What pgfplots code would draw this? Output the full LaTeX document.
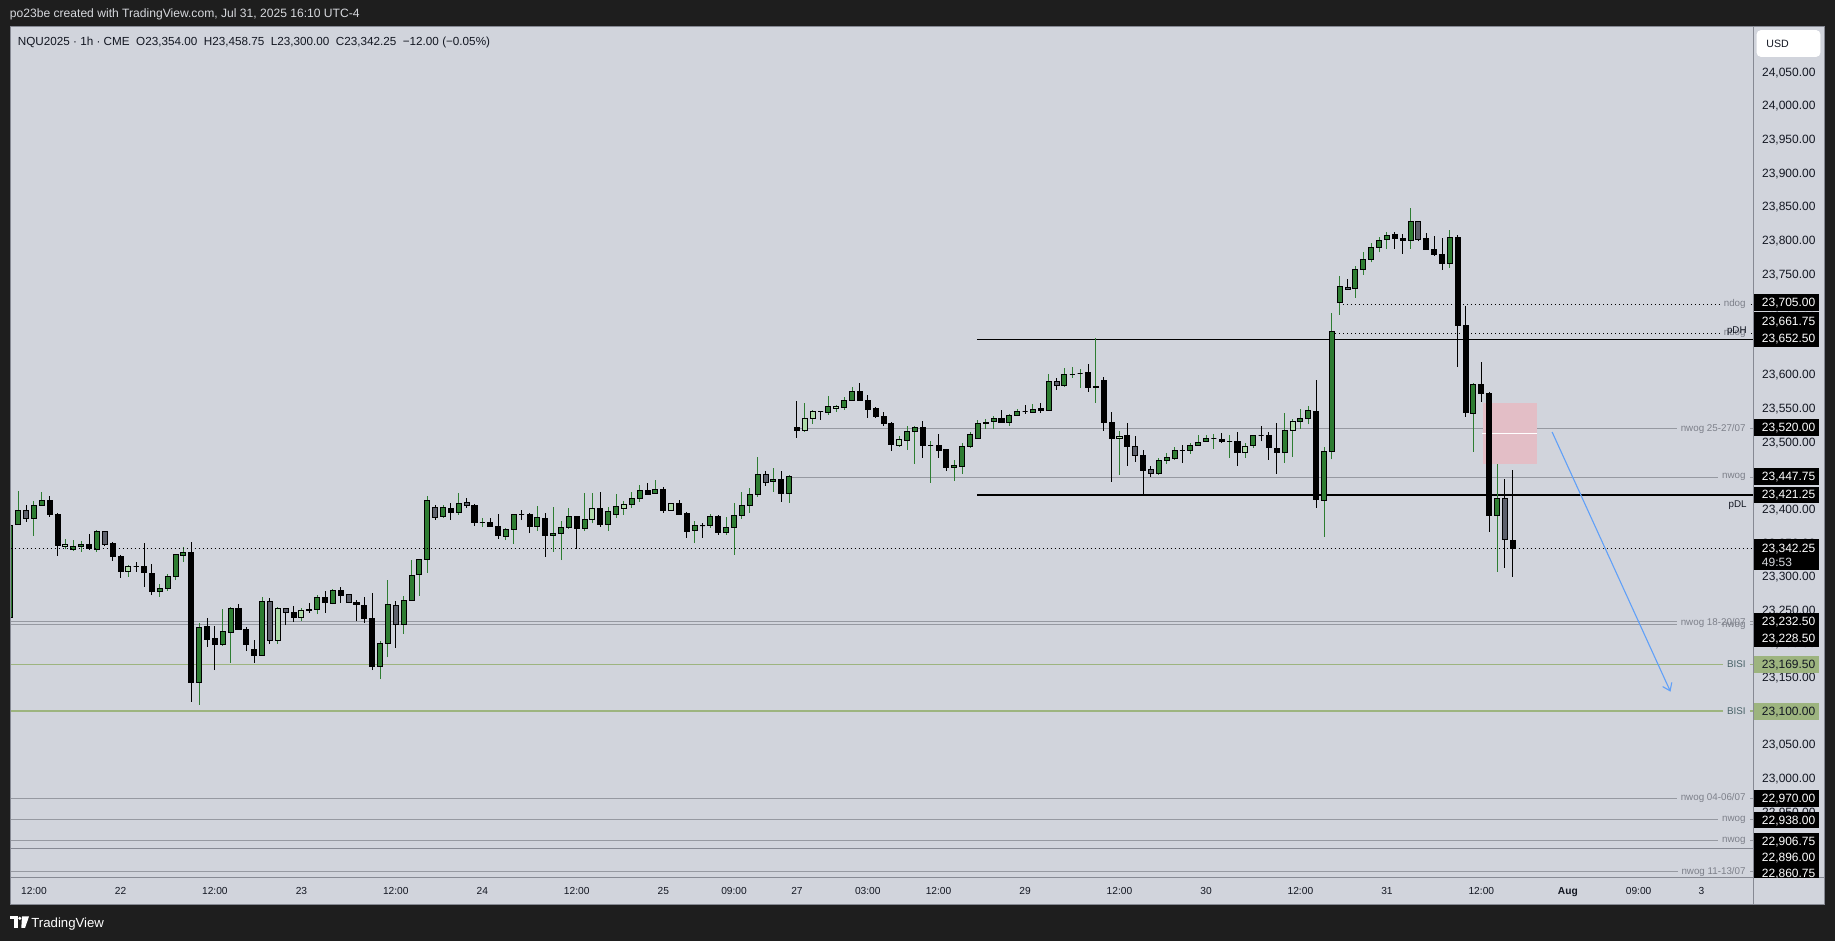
\documentclass[border=0pt]{standalone}
\usepackage{fontspec}
\setmainfont{Liberation Sans}
\usepackage{xfp}
\usepackage{pgfplots}
\usepackage{pgfplotstable}
\pgfplotsset{compat=1.18}
\usetikzlibrary{arrows.meta}

\definecolor{bgdark}{RGB}{30,30,30}
\definecolor{panel}{RGB}{209,212,220}
\definecolor{cgreen}{RGB}{46,125,50}
\definecolor{cgray}{RGB}{93,96,107}
\definecolor{clight}{RGB}{176,220,170}
\definecolor{lvl}{RGB}{150,153,161}
\definecolor{lbl}{RGB}{125,128,138}
\definecolor{bisi}{RGB}{157,180,127}
\definecolor{bisitxt}{RGB}{72,98,104}
\definecolor{pinkbox}{RGB}{227,190,198}
\definecolor{arrowblue}{RGB}{96,160,248}
\definecolor{framec}{RGB}{134,137,147}
\definecolor{tickc}{RGB}{19,23,34}
\definecolor{headtxt}{RGB}{215,217,222}

\pgfdeclareplotmark{nothing}{}
\pgfplotsset{
  candles/.style 2 args={
    only marks, mark=nothing, scatter,
    visualization depends on={\thisrow{dh} \as \dH},
    visualization depends on={\thisrow{dl} \as \dL},
    visualization depends on={\thisrow{dc} \as \dC},
    scatter/@pre marker code/.code={%
      \draw[line width=0.5pt, draw=#2] (axis direction cs:0,\dL) -- (axis direction cs:0,\dH);
      \filldraw[line width=0.5pt, draw=black, fill=#1] (axis direction cs:-0.32,0) rectangle (axis direction cs:0.32,\dC);
    },
    scatter/@post marker code/.code={},
  },
}
% offsets of high, low and close from the open (computed from the OHLC columns)
\newcommand\addoffsets[1]{%
  \pgfplotstablecreatecol[create col/assign/.code={\getthisrow{h}\tH\getthisrow{o}\tO\edef\entry{\fpeval{\tH-\tO}}\pgfkeyslet{/pgfplots/table/create col/next content}\entry}]{dh}#1%
  \pgfplotstablecreatecol[create col/assign/.code={\getthisrow{l}\tL\getthisrow{o}\tO\edef\entry{\fpeval{\tL-\tO}}\pgfkeyslet{/pgfplots/table/create col/next content}\entry}]{dl}#1%
  \pgfplotstablecreatecol[create col/assign/.code={\getthisrow{c}\tC\getthisrow{o}\tO\edef\entry{\fpeval{\tC-\tO}}\pgfkeyslet{/pgfplots/table/create col/next content}\entry}]{dc}#1%
}

% green (up) candles: x o h l c
\pgfplotstableread{
x o h l c
-14 23239.3 23396.4 23225.4 23376.6
-13 23377.6 23427.1 23377.6 23398.4
-11 23386.5 23411.8 23360.7 23405.8
-10 23405.3 23425.7 23405.3 23413.3
-6 23340.4 23354.3 23338.4 23344.4
-5 23344.4 23352.3 23336.9 23347.8
-3 23340.4 23369.1 23336.9 23367.2
5 23277.9 23288.8 23270.0 23282.4
6 23281.9 23303.7 23278.9 23300.2
7 23299.7 23333.0 23294.8 23333.0
8 23331.5 23343.4 23322.0 23336.4
10 23142.1 23230.3 23109.4 23224.4
13 23198.6 23251.2 23197.1 23218.4
14 23216.5 23255.1 23171.9 23253.1
18 23182.3 23269.5 23182.3 23263.1
25 23251.2 23272.0 23244.2 23269.0
27 23260.1 23281.4 23258.6 23279.4
33 23165.9 23204.1 23147.6 23200.6
34 23200.6 23294.8 23180.3 23258.6
36 23228.9 23271.0 23215.0 23264.6
37 23264.6 23324.5 23264.6 23301.7
38 23302.7 23325.5 23271.5 23325.5
39 23325.5 23419.7 23305.7 23413.3
41 23389.0 23406.3 23387.5 23402.9
43 23395.4 23424.2 23392.0 23408.8
46 23380.5 23387.0 23374.1 23380.5
49 23359.2 23372.1 23354.3 23370.2
50 23370.2 23392.5 23348.8 23392.5
53 23374.6 23404.9 23368.2 23388.0
55 23361.2 23403.4 23336.9 23364.2
56 23364.2 23382.5 23324.5 23373.1
57 23372.6 23401.9 23371.1 23389.5
59 23371.1 23423.7 23368.2 23385.0
62 23377.1 23403.4 23368.2 23396.9
63 23392.0 23422.2 23387.5 23403.4
65 23406.9 23425.7 23402.4 23416.3
66 23415.8 23435.6 23411.3 23428.2
68 23423.7 23443.0 23423.7 23429.6
73 23368.7 23382.5 23350.3 23376.1
75 23375.6 23393.0 23372.6 23389.5
77 23365.2 23388.5 23362.2 23373.1
78 23373.1 23408.8 23332.5 23391.0
79 23390.5 23425.7 23386.0 23405.8
80 23405.8 23431.6 23394.9 23422.2
81 23421.7 23477.2 23418.7 23451.9
83 23441.5 23460.9 23426.2 23444.5
85 23423.2 23451.0 23409.8 23449.0
90 23543.6 23568.4 23540.7 23553.1
92 23551.1 23567.0 23548.1 23562.0
93 23562.0 23581.8 23562.0 23575.4
100 23502.0 23523.8 23488.6 23515.9
101 23515.4 23523.4 23467.9 23521.9
103 23495.1 23501.6 23439.6 23495.1
106 23461.9 23473.3 23442.6 23464.4
107 23463.4 23498.1 23453.0 23493.6
108 23493.1 23514.9 23491.6 23511.5
109 23505.5 23532.8 23505.5 23527.8
110 23527.3 23533.8 23519.9 23529.3
111 23530.3 23538.2 23519.9 23535.3
113 23528.8 23541.7 23523.9 23539.7
114 23539.7 23549.2 23539.2 23545.7
116 23544.2 23556.1 23544.2 23548.7
118 23546.7 23601.2 23546.7 23590.3
120 23583.8 23610.1 23582.4 23600.7
121 23600.7 23611.6 23595.7 23600.7
122 23602.2 23608.1 23580.4 23602.2
124 23580.9 23654.2 23558.6 23582.9
132 23453.0 23475.8 23451.5 23472.8
133 23472.3 23483.2 23467.9 23477.3
134 23475.3 23492.1 23473.8 23487.7
136 23487.2 23498.6 23482.7 23495.1
137 23494.6 23510.0 23494.6 23499.6
138 23500.6 23510.0 23500.6 23505.5
139 23505.5 23512.0 23490.2 23505.5
141 23501.1 23510.0 23476.8 23501.1
144 23494.6 23510.0 23491.6 23510.0
148 23484.2 23542.7 23469.3 23517.4
150 23530.9 23548.7 23519.9 23535.3
151 23535.3 23553.2 23526.4 23547.2
153 23413.4 23492.2 23359.3 23486.2
154 23486.2 23692.0 23474.3 23664.7
155 23707.8 23747.0 23689.5 23731.6
157 23728.6 23761.4 23714.8 23756.9
158 23756.9 23782.2 23749.0 23771.8
159 23771.8 23795.6 23767.3 23789.6
160 23789.6 23804.5 23782.2 23800.0
161 23801.5 23811.9 23787.1 23807.5
164 23800.0 23847.6 23787.6 23828.3
169 23765.8 23814.9 23759.4 23804.5
172 23542.8 23587.4 23485.8 23585.9
175 23391.1 23467.4 23307.3 23415.9
}\candlesG

% black (down) candles
\pgfplotstableread{
x o h l c
-9 23413.3 23419.7 23389.0 23392.0
-8 23392.4 23393.9 23331.0 23346.3
-4 23347.8 23363.2 23339.9 23341.4
-1 23349.8 23351.3 23323.5 23329.5
0 23330.5 23332.0 23298.3 23307.2
2 23315.1 23321.6 23307.2 23315.1
3 23315.1 23349.8 23284.9 23305.7
4 23304.7 23318.6 23272.5 23277.4
9 23336.4 23351.3 23113.9 23142.1
11 23225.9 23237.8 23195.7 23206.1
12 23208.0 23226.4 23161.0 23198.6
15 23253.1 23258.6 23220.9 23220.9
16 23221.9 23224.9 23189.7 23198.6
17 23191.7 23205.6 23171.9 23182.3
22 23246.7 23256.1 23232.8 23238.8
24 23251.2 23260.1 23246.2 23249.2
26 23269.0 23278.4 23246.2 23261.1
28 23279.4 23283.9 23261.1 23271.5
30 23262.1 23265.1 23234.3 23258.1
31 23257.1 23269.0 23231.3 23237.3
32 23237.8 23275.0 23161.0 23165.9
42 23401.4 23409.3 23384.5 23394.9
45 23405.8 23407.3 23375.6 23380.5
47 23380.5 23386.5 23374.1 23374.6
48 23374.6 23392.9 23356.3 23360.7
51 23392.5 23398.9 23384.0 23392.5
52 23392.5 23394.9 23364.7 23374.1
54 23386.5 23394.0 23329.5 23360.7
58 23389.5 23389.5 23341.4 23371.1
61 23401.4 23425.7 23374.1 23377.1
67 23428.2 23439.1 23421.7 23421.7
69 23429.6 23433.1 23394.9 23397.9
71 23408.8 23413.3 23392.0 23392.0
72 23393.0 23395.4 23357.8 23366.7
74 23375.6 23379.1 23357.8 23375.6
76 23389.5 23391.0 23362.2 23365.2
84 23444.5 23456.9 23411.3 23423.2
86 23521.8 23561.0 23506.5 23516.9
89 23545.6 23545.6 23533.2 23545.6
94 23575.4 23587.8 23562.0 23562.0
95 23562.0 23569.9 23536.2 23548.1
96 23550.1 23552.1 23536.2 23537.7
97 23538.2 23544.6 23524.3 23527.3
98 23528.3 23529.8 23487.1 23496.1
102 23521.9 23531.3 23476.8 23494.6
104 23495.1 23512.0 23476.8 23487.2
105 23488.2 23489.2 23457.4 23461.9
112 23535.3 23547.7 23528.8 23528.8
115 23545.7 23554.6 23541.7 23545.7
117 23550.1 23558.1 23543.7 23546.7
123 23602.7 23616.1 23574.9 23580.9
125 23590.8 23596.2 23516.9 23528.8
126 23529.3 23544.2 23441.1 23505.0
128 23509.0 23527.8 23464.9 23493.1
130 23480.2 23487.7 23422.7 23457.4
135 23487.7 23495.1 23469.3 23487.7
140 23504.5 23513.0 23499.1 23500.6
142 23501.1 23514.4 23464.9 23484.2
145 23510.0 23523.4 23501.1 23510.0
146 23510.0 23514.4 23473.8 23491.6
147 23490.7 23527.8 23453.0 23484.2
152 23544.7 23592.3 23402.5 23414.9
162 23808.9 23811.9 23787.6 23803.0
163 23803.0 23808.9 23780.2 23800.0
166 23803.0 23810.4 23786.6 23786.6
167 23786.6 23806.5 23777.2 23778.7
168 23779.2 23803.0 23756.4 23765.8
170 23804.5 23807.5 23612.2 23673.1
171 23673.6 23701.9 23537.8 23544.2
173 23585.9 23618.6 23560.1 23572.5
174 23572.5 23574.0 23366.8 23391.1
177 23354.0 23458.75 23300.0 23342.25
}\candlesB

% grey candles
\pgfplotstableread{
x o h l c
-12 23398.4 23406.3 23381.5 23386.5
-2 23367.2 23367.2 23345.8 23347.8
19 23263.1 23267.5 23200.1 23205.1
21 23252.6 23252.6 23227.9 23246.7
29 23273.5 23273.5 23261.6 23261.6
35 23257.1 23263.6 23194.2 23228.9
40 23402.9 23406.3 23384.5 23387.5
44 23410.3 23416.7 23402.4 23405.8
82 23451.9 23456.9 23435.1 23440.0
119 23590.3 23594.8 23577.4 23583.8
129 23493.6 23508.5 23470.8 23479.7
131 23459.4 23463.9 23448.5 23453.0
156 23730.1 23742.5 23727.2 23727.2
165 23828.3 23828.3 23798.5 23801.5
176 23415.9 23444.6 23313.2 23355.4
}\candlesS

% light green candles
\pgfplotstableread{
x o h l c
-7 23344.4 23355.3 23340.4 23347.8
1 23307.2 23317.1 23299.7 23315.1
20 23205.1 23255.1 23200.1 23252.6
23 23238.8 23253.6 23234.3 23249.7
60 23385.0 23423.7 23379.1 23401.4
64 23401.4 23412.3 23392.0 23407.4
70 23398.4 23408.8 23398.4 23408.8
87 23516.9 23558.0 23515.4 23535.2
88 23534.7 23547.6 23527.3 23545.6
91 23549.6 23555.5 23545.1 23553.1
99 23495.1 23508.9 23493.1 23504.0
127 23505.0 23515.9 23451.0 23508.5
143 23484.2 23499.1 23476.8 23493.6
149 23516.9 23533.8 23478.3 23530.8
}\candlesL

\addoffsets\candlesG
\addoffsets\candlesB
\addoffsets\candlesS
\addoffsets\candlesL

\tikzset{
  lvlbl/.style={anchor=east, fill=panel, inner xsep=2pt, inner ysep=0.3pt, font=\fontsize{4.9}{5}\selectfont, text=lbl},
  ptxt/.style={anchor=base west, inner sep=0pt, font=\fontsize{6}{7}\selectfont, text=white},
}

\begin{document}
\begin{tikzpicture}
\fill[bgdark] (0,0) rectangle (917.5pt,470.5pt);
\begin{scope}[yshift=470.5pt, x=0.5pt, y=-0.5pt]
  \fill[panel] (10,27) rectangle (1824,905);
  \node[anchor=base west, inner sep=0pt, text=headtxt, font=\fontsize{6.05}{7}\selectfont] at (9.5,18) {po23be created with TradingView.com, Jul 31, 2025 16:10 UTC-4};
\end{scope}

\begin{axis}[
  at={(5pt,31.5pt)}, anchor=south west,
  scale only axis, width=871.5pt, height=425.5pt,
  xmin=-14.05, xmax=207.54, ymin=22851.7, ymax=24117.2,
  axis line style={draw=none},
  major tick length=0pt,
  clip marker paths=true,
  xtick={-11,0,12,23,35,46,58,69,78,86,95,104,115,127,138,150,161,173,184,193,201},
  xticklabels={12:00,22,12:00,23,12:00,24,12:00,25,09:00,27,03:00,12:00,29,12:00,30,12:00,31,12:00,\textbf{Aug},09:00,3},
  xticklabel style={font=\fontsize{5.1}{6}\selectfont, text=tickc, anchor=base, inner sep=0pt, yshift=-8.5pt},
  ytick={22900,22950,23000,23050,23100,23150,23200,23250,23300,23350,23400,23450,23500,23550,23600,23650,23700,23750,23800,23850,23900,23950,24000,24050},
  ytick pos=right, yticklabel pos=right,
  yticklabel style={font=\fontsize{6}{7}\selectfont, text=tickc, anchor=base west, inner sep=0pt, xshift=4.35pt, yshift=-2.1pt},
  scaled y ticks=false,
  /pgf/number format/fixed, /pgf/number format/fixed zerofill,
  /pgf/number format/precision=2, /pgf/number format/1000 sep={,},
  /pgf/number format/assume math mode=true,
]
% levels
\addplot[black, line width=0.5pt, dash pattern=on 0.55pt off 1.45pt] coordinates {(155.4,23705) (210,23705)};
\addplot[black, line width=0.5pt, dash pattern=on 0.55pt off 1.45pt] coordinates {(154.4,23661.75) (210,23661.75)};
\addplot[black, line width=0.6pt] coordinates {(108.9,23652.5) (210,23652.5)};
\addplot[lvl, line width=0.5pt] coordinates {(86.4,23520) (210,23520)};
\addplot[lvl, line width=0.5pt] coordinates {(85.0,23447.75) (210,23447.75)};
\addplot[black, line width=0.6pt] coordinates {(108.9,23421.25) (210,23421.25)};
\addplot[lvl, line width=0.5pt] coordinates {(-15,23232.5) (210,23232.5)};
\addplot[lvl, line width=0.5pt] coordinates {(-15,23228.5) (210,23228.5)};
\addplot[bisi, line width=0.6pt] coordinates {(-15,23169.5) (210,23169.5)};
\addplot[bisi, line width=0.6pt] coordinates {(-15,23100) (210,23100)};
\addplot[lvl, line width=0.5pt] coordinates {(-15,22970) (210,22970)};
\addplot[lvl, line width=0.5pt] coordinates {(-15,22938) (210,22938)};
\addplot[lvl, line width=0.5pt] coordinates {(-15,22906.75) (210,22906.75)};
\addplot[framec, line width=0.5pt] coordinates {(-15,22896) (210,22896)};
\addplot[lvl, line width=0.5pt] coordinates {(-15,22860.75) (210,22860.75)};
% FVG box
\addplot[fill=pinkbox, draw=none] coordinates {(173.2,23467.4) (180.1,23467.4) (180.1,23558.1) (173.2,23558.1)};
\addplot[white, line width=0.6pt] coordinates {(173.1,23513) (180.1,23513)};
% candles
\addplot[candles={cgreen}{cgreen}] table[x=x, y=o] {\candlesG};
\addplot[candles={black}{black}] table[x=x, y=o] {\candlesB};
\addplot[candles={cgray}{black}] table[x=x, y=o] {\candlesS};
\addplot[candles={clight}{cgreen}] table[x=x, y=o] {\candlesL};
% last price
\addplot[black, line width=0.5pt, dash pattern=on 0.55pt off 1.45pt] coordinates {(-15,23342.25) (210,23342.25)};
% arrow
\addplot[arrowblue, line width=0.55pt, -{Straight Barb[length=3.5pt, width=5pt]}] coordinates {(182.0,23514.9) (197.05,23128.7)};
\end{axis}

\begin{scope}[yshift=470.5pt, x=0.5pt, y=-0.5pt]
  % frame lines
  \draw[framec, line width=0.5pt] (1753,27) -- (1753,905);
  \draw[framec, line width=0.5pt] (10,878) -- (1824,878);
  \draw[framec, line width=0.5pt] (10,27) rectangle (1824,905);
  % legend line
  \node[anchor=base west, inner sep=0pt, text=tickc, font=\fontsize{5.85}{7}\selectfont] at (17.5,45.5) {NQU2025 · 1h · CME\ \ O23,354.00\ \ H23,458.75\ \ L23,300.00\ \ C23,342.25\ \ −12.00 (−0.05\%)};
  % level labels
  \node[lvlbl] at (1750,304.2) {ndog};
  \node[lvlbl] at (1750,333.3) {ndog};
  \node[anchor=base east, inner sep=0pt, font=\fontsize{4.9}{5}\selectfont, text=tickc] at (1747,334) {pDH};
  \node[lvlbl] at (1750,428.6) {nwog 25-27/07};
  \node[lvlbl] at (1750,477.3) {nwog};
  \node[anchor=base east, inner sep=0pt, font=\fontsize{4.9}{5}\selectfont, text=tickc] at (1747,507.5) {pDL};
  \node[lvlbl] at (1750,622.8) {nwog 18-20/07};
  \node[lvlbl, fill=none] at (1750,625.5) {nwog};
  \node[lvlbl, text=bisitxt] at (1750,664.3) {BISI};
  \node[lvlbl, text=bisitxt] at (1750,711.0) {BISI};
  \node[lvlbl] at (1750,798.4) {nwog 04-06/07};
  \node[lvlbl] at (1750,820.0) {nwog};
  \node[lvlbl] at (1750,841.0) {nwog};
  \node[lvlbl] at (1750,872.0) {nwog 11-13/07};
  % USD box
  \filldraw[fill=white, draw=white, rounded corners=2pt] (1757,30.5) rectangle (1820,56.5);
  \node[anchor=base west, inner sep=0pt, text=tickc, font=\fontsize{5.3}{6}\selectfont] at (1766,47.5) {USD};
  % price boxes
  \begin{scope}
    \clip (1753.5,27) rectangle (1824,877.6);
    \fill[black] (1754,294) rectangle (1819,310.7);
    \node[ptxt] at (1761.5,306.7) {23,705.00};
    \fill[black] (1754,312.3) rectangle (1819,346.7);
    \node[ptxt] at (1761.5,325.3) {23,661.75};
    \node[ptxt] at (1761.5,342.3) {23,652.50};
    \fill[black] (1754,419.3) rectangle (1819,436);
    \node[ptxt] at (1761.5,432) {23,520.00};
    \fill[black] (1754,468.3) rectangle (1819,485);
    \node[ptxt] at (1761.5,481) {23,447.75};
    \fill[black] (1754,486.7) rectangle (1819,502.7);
    \node[ptxt] at (1761.5,499) {23,421.25};
    \fill[black] (1754,539.3) rectangle (1819,570);
    \node[ptxt] at (1761.5,552.3) {23,342.25};
    \node[ptxt, text=headtxt] at (1761.5,567) {49:53};
    \fill[black] (1754,612.7) rectangle (1819,646.7);
    \node[ptxt] at (1761.5,625.3) {23,232.50};
    \node[ptxt] at (1761.5,642.3) {23,228.50};
    \fill[bisi] (1754,656) rectangle (1819,672.7);
    \node[ptxt, text=tickc] at (1761.5,668.6) {23,169.50};
    \fill[bisi] (1754,703.3) rectangle (1819,720);
    \node[ptxt, text=tickc] at (1761.5,716) {23,100.00};
    \fill[black] (1754,790) rectangle (1819,806.7);
    \node[ptxt] at (1761.5,802.6) {22,970.00};
    \fill[black] (1754,811.7) rectangle (1819,828.3);
    \node[ptxt] at (1761.5,824.3) {22,938.00};
    \fill[black] (1754,832.7) rectangle (1819,880);
    \node[ptxt] at (1761.5,845.3) {22,906.75};
    \node[ptxt] at (1761.5,861.3) {22,896.00};
    \node[ptxt] at (1761.5,877.3) {22,860.75};
  \end{scope}
  % footer
  \fill[white] (10,916.5) rectangle (17.5,919.5);
  \fill[white] (14,916.5) rectangle (17.5,928);
  \fill[white] (19.8,918.3) circle (1.7);
  \fill[white] (22,916.5) -- (29,916.5) -- (25,928) -- (21.3,928) -- cycle;
  \node[anchor=base west, inner sep=0pt, text=white, font=\fontsize{6.6}{7}\selectfont] at (31,927.5) {TradingView};
\end{scope}
\pgfresetboundingbox
\useasboundingbox (0,0) rectangle (917.5pt,470.5pt);
\end{tikzpicture}
\end{document}
